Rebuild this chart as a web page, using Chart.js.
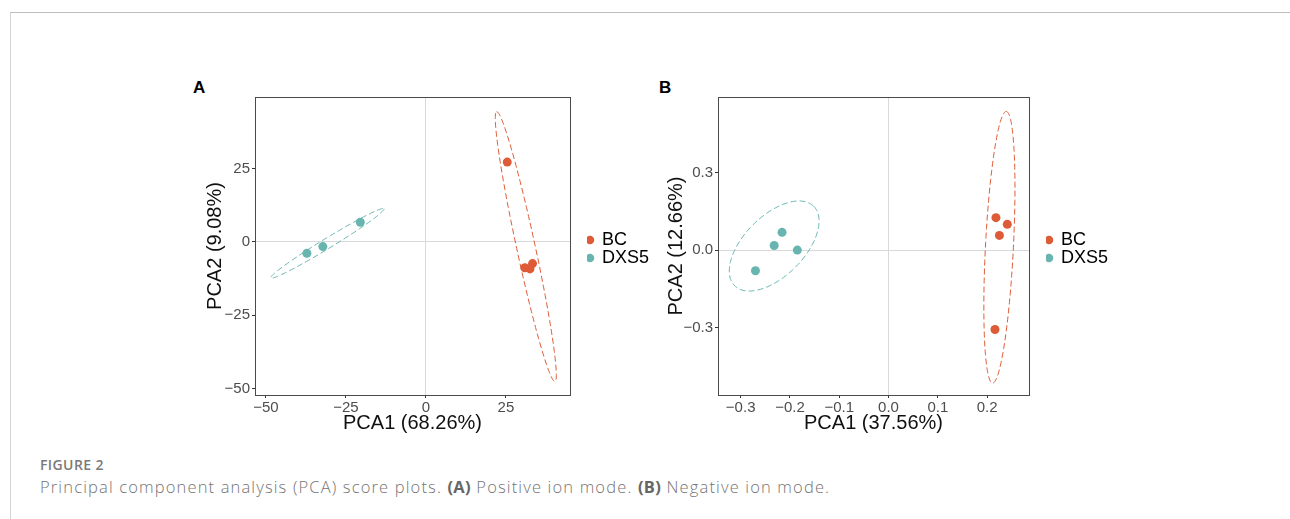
<!DOCTYPE html>
<html>
<head>
<meta charset="utf-8">
<script src="https://cdn.jsdelivr.net/npm/chart.js@4.4.1/dist/chart.umd.min.js"></script>
<style>
  body { margin: 0; background: #fff; width: 1290px; height: 519px; overflow: hidden; position: relative; font-family: 'Liberation Sans', Arial, sans-serif; }
  #frame { position: absolute; left: 10px; top: 12px; right: 0; bottom: -5px; border-top: 1px solid #bdbdbd; border-left: 1px solid #d4d4d4; }
  canvas { position: absolute; }
  .panel { position: absolute; font-weight: bold; font-size: 17px; color: #000; }
  #fig { position: absolute; left: 40px; top: 455px; font-family: 'Open Sans', sans-serif; font-weight: 600; font-size: 14px; letter-spacing: 0.4px; color: #7a7a7a; }
  #cap { position: absolute; left: 40px; top: 475px; font-family: 'Open Sans', sans-serif; font-weight: 300; font-size: 16.5px; letter-spacing: 1.15px; color: #747474; white-space: nowrap; }
  #cap b { color: #666; font-weight: 700; letter-spacing: 0.3px; }
</style>
</head>
<body>
<div id="frame"></div>
<div class="panel" style="left:193px; top:78px;">A</div>
<div class="panel" style="left:659px; top:78px;">B</div>
<canvas id="chartA" width="472" height="370" style="left:180px; top:70px;"></canvas>
<canvas id="chartB" width="471" height="370" style="left:640px; top:70px;"></canvas>
<div id="fig">FIGURE 2</div>
<div id="cap">Principal component analysis (PCA) score plots. <b>(A)</b> Positive ion mode. <b>(B)</b> Negative ion mode.</div>
<script>
const groups = ['BC', 'DXS5'];
const groupColors = ['#de5b37', '#68b5b0'];

// panel A - positive ion mode
const bcAx = [25.4, 30.9, 32.5, 33.3];
const bcAy = [27.2, -8.8, -9.2, -7.4];
const dxAx = [-37.2, -32.2, -20.5];
const dxAy = [-3.9, -1.6, 6.7];
// ellipse: centre x, centre y, major axis vector, minor axis vector
const ellBCA = [31.2, -1.6, -9.1, 46.0, 2.84, 0.67];
const ellDXA = [-30.8, -0.5, 17.7, 11.8, 0.81, -1.47];
const xTicksA = [-50, -25, 0, 25];
const yTicksA = [-50, -25, 0, 25];

// panel B - negative ion mode
const bcBx = [0.218, 0.241, 0.225, 0.216];
const bcBy = [0.126, 0.100, 0.057, -0.308];
const dxBx = [-0.216, -0.232, -0.185, -0.270];
const dxBy = [0.069, 0.018, 0.0, -0.080];
const ellBCB = [0.225, 0.011, 0.0138, 0.527, 0.0284, 0.0];
const ellDXB = [-0.232, 0.016, 0.0803, 0.154, 0.043, -0.0824];
const xTicksB = [-0.3, -0.2, -0.1, 0, 0.1, 0.2];
const yTicksB = [-0.3, 0, 0.3];

const toPts = (xs, ys) => xs.map((x, i) => ({ x: x, y: ys[i] }));
const minus = (s) => s.replace('-', '\u2212');

const ellipsePlugin = {
  id: 'ellipses',
  beforeDatasetsDraw(chart, args, opts) {
    const ctx = chart.ctx;
    const xs = chart.scales.x, ys = chart.scales.y;
    opts.list.forEach((e, k) => {
      ctx.save();
      ctx.strokeStyle = groupColors[k];
      ctx.lineWidth = 1;
      ctx.setLineDash([6, 3]);
      ctx.beginPath();
      for (let i = 0; i <= 180; i++) {
        const t = i / 180 * Math.PI * 2;
        const px = xs.getPixelForValue(e[0] + e[2] * Math.cos(t) + e[4] * Math.sin(t));
        const py = ys.getPixelForValue(e[1] + e[3] * Math.cos(t) + e[5] * Math.sin(t));
        if (i === 0) ctx.moveTo(px, py); else ctx.lineTo(px, py);
      }
      ctx.stroke();
      ctx.restore();
    });
  }
};

const framePlugin = {
  id: 'frame',
  afterDraw(chart) {
    const a = chart.chartArea, ctx = chart.ctx;
    ctx.save();
    ctx.strokeStyle = '#4a4a4a';
    ctx.lineWidth = 1;
    ctx.strokeRect(Math.round(a.left) + 0.5, Math.round(a.top) + 0.5, Math.round(a.right - a.left), Math.round(a.bottom - a.top));
    ctx.restore();
  }
};

const legendShift = {
  id: 'legendShift',
  afterLayout(chart) {
    const l = chart.legend;
    const w = l.right - l.left;
    l.left = chart.chartArea.right + 17;
    l.right = l.left + w;
    l.top += 3;
    l.bottom += 3;
  }
};

function makeChart(id, d, xTicks, yTicks, fmt, xTitle, yTitle, range, yAxisW, yTitlePad) {
  const grid = {
    color: (c) => (c.tick && Math.abs(c.tick.value) < 1e-9 ? '#d9d9d9' : 'rgba(0,0,0,0)'),
    tickColor: '#333',
    tickLength: 3,
    lineWidth: 1
  };
  const tickFont = { family: "'Liberation Sans', Arial", size: 15 };
  const titleFont = { family: "'Liberation Sans', Arial", size: 20 };
  return new Chart(document.getElementById(id), {
    type: 'scatter',
    data: {
      datasets: groups.map((g, k) => ({
        label: g,
        data: d.pts[k],
        backgroundColor: groupColors[k],
        borderWidth: 0,
        pointRadius: 4.5,
        pointHoverRadius: 4.5
      }))
    },
    options: {
      responsive: false,
      animation: false,
      devicePixelRatio: 1,
      layout: { padding: { top: 27, right: 10, bottom: 0, left: 0 } },
      scales: {
        x: {
          type: 'linear', min: range[0], max: range[1],
          afterBuildTicks: (s) => { s.ticks = xTicks.map(v => ({ value: v })); },
          afterFit: (s) => { s.height = 45; },
          ticks: { font: tickFont, color: '#4d4d4d', padding: 1, maxRotation: 0, callback: (v) => fmt(v) },
          grid: grid,
          border: { display: false },
          title: { display: true, text: xTitle, font: titleFont, color: '#111', padding: { top: 0, bottom: 5 } }
        },
        y: {
          type: 'linear', min: range[2], max: range[3],
          afterBuildTicks: (s) => { s.ticks = yTicks.map(v => ({ value: v })); },
          afterFit: (s) => { s.width = yAxisW; },
          ticks: { font: tickFont, color: '#4d4d4d', padding: 2, callback: (v) => fmt(v) },
          grid: grid,
          border: { display: false },
          title: { display: true, text: yTitle, font: titleFont, color: '#111', padding: { top: yTitlePad, bottom: 0 } }
        }
      },
      plugins: {
        legend: {
          position: 'right',
          fullSize: false,
          labels: {
            usePointStyle: true, pointStyle: 'circle', boxWidth: 6, boxHeight: 6, padding: 0,
            color: '#000', font: { family: "'Liberation Sans', Arial", size: 18 }
          }
        },
        tooltip: { enabled: false },
        ellipses: { list: d.ell }
      }
    },
    plugins: [ellipsePlugin, framePlugin, legendShift]
  });
}

makeChart('chartA',
  { pts: [toPts(bcAx, bcAy), toPts(dxAx, dxAy)], ell: [ellBCA, ellDXA] },
  xTicksA, yTicksA, (v) => minus(String(v)),
  'PCA1 (68.26%)', 'PCA2 (9.08%)', [-53.4, 45, -52.2, 49.4], 75, 23);

makeChart('chartB',
  { pts: [toPts(bcBx, bcBy), toPts(dxBx, dxBy)], ell: [ellBCB, ellDXB] },
  xTicksB, yTicksB, (v) => minus(v.toFixed(1)),
  'PCA1 (37.56%)', 'PCA2 (12.66%)', [-0.346, 0.285, -0.562, 0.594], 78, 24);
</script>
</body>
</html>
